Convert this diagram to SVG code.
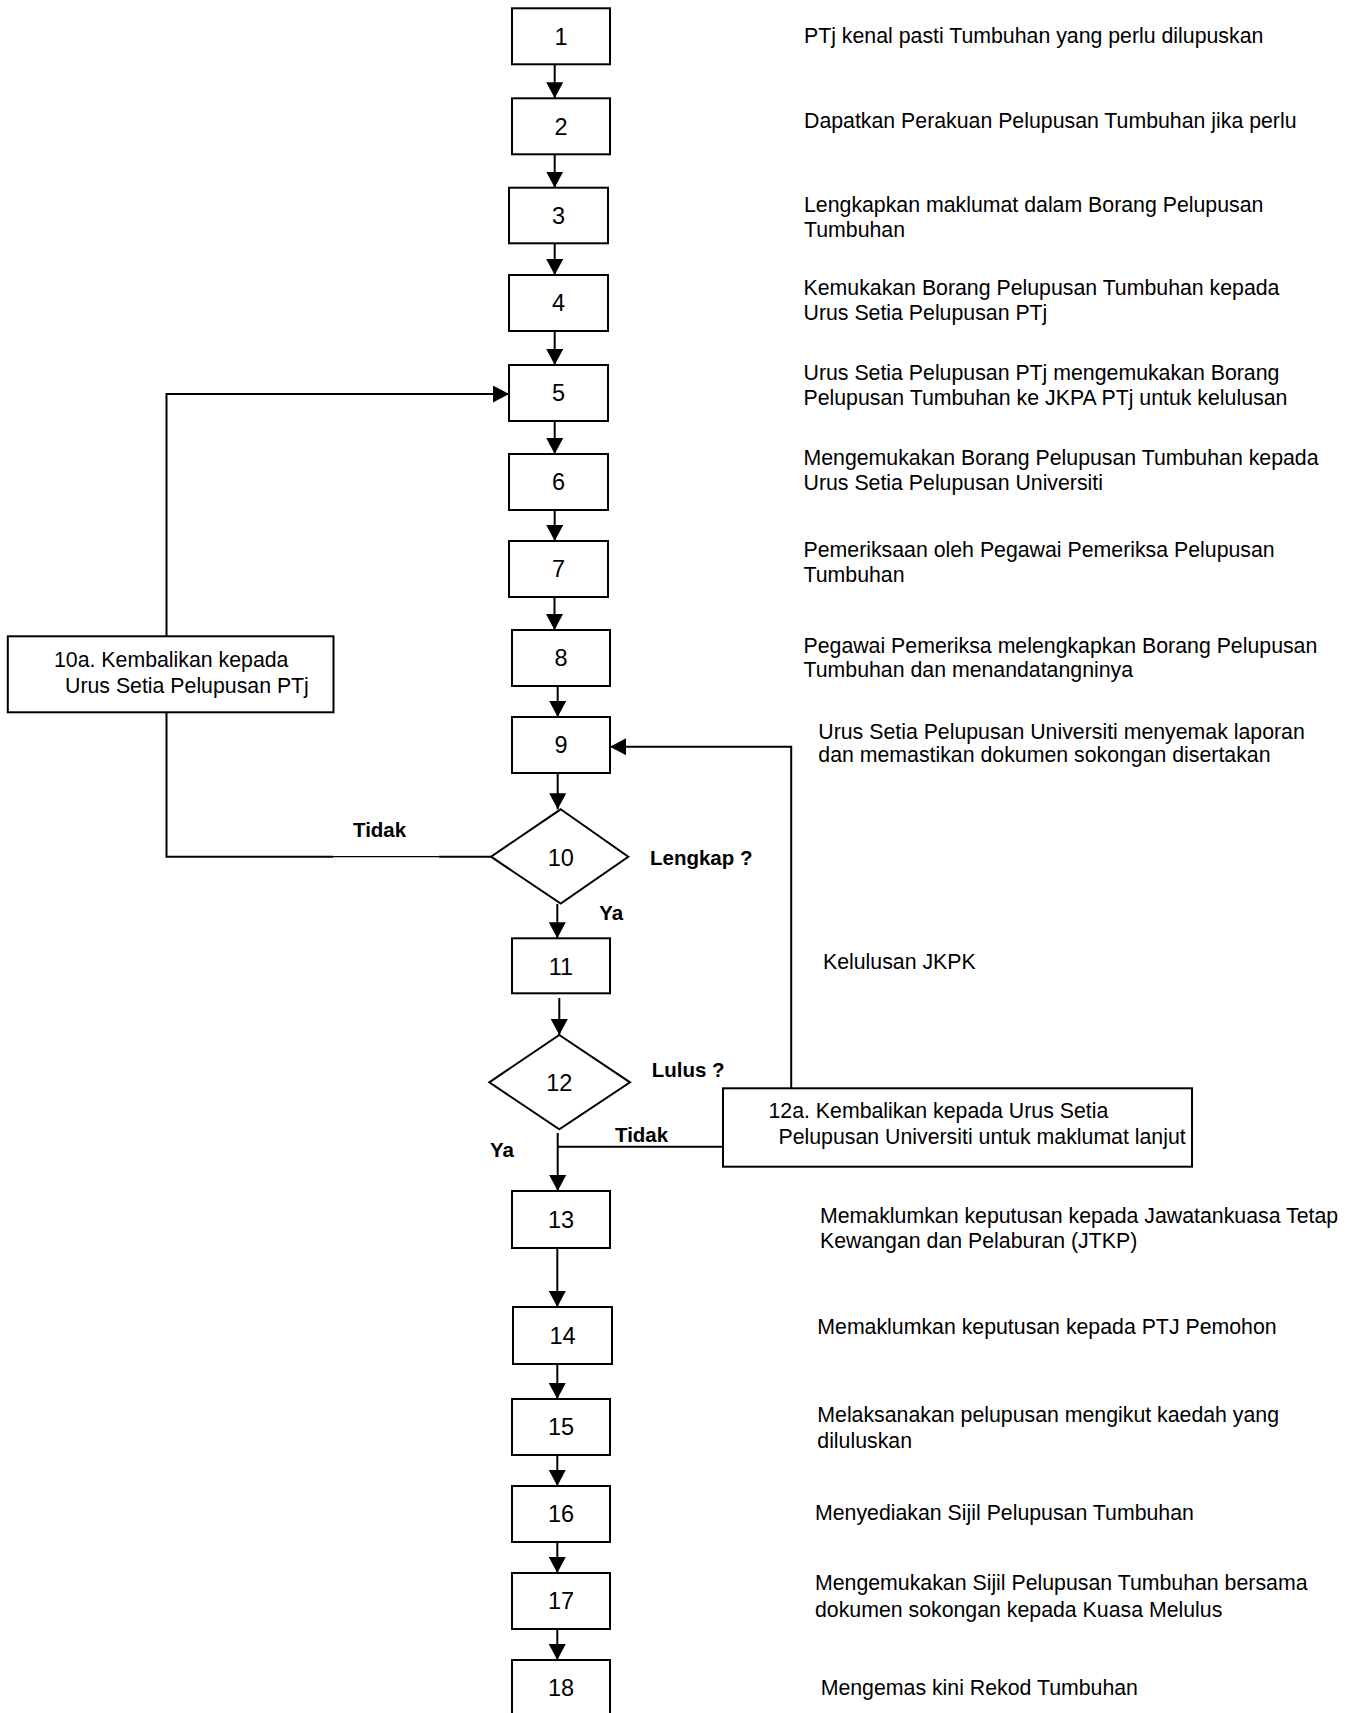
<svg xmlns="http://www.w3.org/2000/svg" width="1359" height="1713" viewBox="0 0 1359 1713">
<style>
  .box { fill: #ffffff; stroke: #000000; stroke-width: 2; }
  .num { font-family: "Liberation Sans", Arial, sans-serif; font-size: 23.5px; text-anchor: middle; fill: #000; }
  .desc { font-family: "Liberation Sans", Arial, sans-serif; font-size: 21.3px; fill: #000; }
  .lbl { font-family: "Liberation Sans", Arial, sans-serif; font-size: 20.5px; font-weight: bold; fill: #000; }
  .conn { fill: none; stroke: #000000; stroke-width: 2; }
  .arr { marker-end: url(#ah); }
</style>
<defs>
  <marker id="ah" markerUnits="userSpaceOnUse" markerWidth="17" markerHeight="17" refX="16" refY="8.5" orient="auto">
    <path d="M0,0 L16,8.5 L0,17 Z" fill="#000000"/>
  </marker>
</defs>
<rect x="0" y="0" width="1359" height="1713" fill="#ffffff"/>

<g id="connectors">
  <path class="conn arr" d="M554.7,64.3 V98.3"/>
  <path class="conn arr" d="M554.7,154.3 V187.7"/>
  <path class="conn arr" d="M554.7,243.3 V275"/>
  <path class="conn arr" d="M554.7,331 V365"/>
  <path class="conn arr" d="M554.7,421 V454"/>
  <path class="conn arr" d="M554.7,510 V541"/>
  <path class="conn arr" d="M554.5,597 V630"/>
  <path class="conn arr" d="M557.7,686 V717"/>
  <path class="conn arr" d="M557.7,773 V809.3"/>
  <path class="conn arr" d="M557.3,904 V938.3"/>
  <path class="conn arr" d="M559.3,998 V1035"/>
  <path class="conn arr" d="M557.7,1133 V1191"/>
  <path class="conn arr" d="M557.3,1248 V1307"/>
  <path class="conn arr" d="M557.3,1364 V1399"/>
  <path class="conn arr" d="M557.3,1455 V1486"/>
  <path class="conn arr" d="M557.3,1542 V1573"/>
  <path class="conn arr" d="M557.3,1629 V1660"/>
  <path class="conn" d="M491,856.7 H439"/>
  <path class="conn" d="M439,856.7 H333" style="stroke-width:1.2"/>
  <path class="conn" d="M333,856.7 H166.5 V712.3"/>
  <path class="conn arr" d="M166.5,636.3 V394 H509"/>
  <path class="conn" d="M723,1146.7 H557.7"/>
  <path class="conn arr" d="M791.2,1088.3 V746.7 H610"/>
</g>

<g id="n1"><rect class="box" x="512" y="8.3" width="98" height="56"/><text class="num" x="561" y="44.6">1</text></g>
<g id="n2"><rect class="box" x="512" y="98.3" width="98" height="56"/><text class="num" x="561" y="134.6">2</text></g>
<g id="n3"><rect class="box" x="509" y="187.7" width="99" height="55.6"/><text class="num" x="558.5" y="223.8">3</text></g>
<g id="n4"><rect class="box" x="509" y="275" width="99" height="56"/><text class="num" x="558.5" y="311.3">4</text></g>
<g id="n5"><rect class="box" x="509" y="365" width="99" height="56"/><text class="num" x="558.5" y="401.3">5</text></g>
<g id="n6"><rect class="box" x="509" y="454" width="99" height="56"/><text class="num" x="558.5" y="490.3">6</text></g>
<g id="n7"><rect class="box" x="509" y="541" width="99" height="56"/><text class="num" x="558.5" y="577.3">7</text></g>
<g id="n8"><rect class="box" x="512" y="630" width="98" height="56"/><text class="num" x="561" y="666.3">8</text></g>
<g id="n9"><rect class="box" x="512" y="717" width="98" height="56"/><text class="num" x="561" y="753.3">9</text></g>
<g id="n10"><polygon class="box" points="560.7,809.3 628.3,856.7 560.7,903.5 491,856.7"/><text class="num" x="560.7" y="865.5">10</text></g>
<g id="n11"><rect class="box" x="512" y="938.3" width="98" height="55"/><text class="num" x="561" y="974.5">11</text></g>
<g id="n12"><polygon class="box" points="559.3,1035 630,1082.3 559.3,1129.3 489.3,1082.3"/><text class="num" x="559.3" y="1091">12</text></g>
<g id="n13"><rect class="box" x="512" y="1191" width="98" height="57"/><text class="num" x="561" y="1227.8">13</text></g>
<g id="n14"><rect class="box" x="513" y="1307" width="99" height="57"/><text class="num" x="562.5" y="1343.8">14</text></g>
<g id="n15"><rect class="box" x="512" y="1399" width="98" height="56"/><text class="num" x="561" y="1435.3">15</text></g>
<g id="n16"><rect class="box" x="512" y="1486" width="98" height="56"/><text class="num" x="561" y="1522.3">16</text></g>
<g id="n17"><rect class="box" x="512" y="1573" width="98" height="56"/><text class="num" x="561" y="1609.3">17</text></g>
<g id="n18"><rect class="box" x="512" y="1660" width="98" height="58"/><text class="num" x="561" y="1696.3">18</text></g>

<g id="n10a">
  <rect class="box" x="7.8" y="636.3" width="325.7" height="76"/>
  <text class="desc" x="54" y="666.7">10a. Kembalikan kepada</text>
  <text class="desc" x="65" y="693">Urus Setia Pelupusan PTj</text>
</g>
<g id="n12a">
  <rect class="box" x="723" y="1088.3" width="469" height="78.4"/>
  <text class="desc" x="768.5" y="1118.3">12a. Kembalikan kepada Urus Setia</text>
  <text class="desc" x="778.5" y="1144">Pelupusan Universiti untuk maklumat lanjut</text>
</g>

<g id="labels">
  <text class="lbl" x="353" y="837.3">Tidak</text>
  <text class="lbl" x="650" y="865">Lengkap ?</text>
  <text class="lbl" x="599.3" y="920">Ya</text>
  <text class="lbl" x="651.7" y="1076.7">Lulus ?</text>
  <text class="lbl" x="615" y="1141.7">Tidak</text>
  <text class="lbl" x="490" y="1156.7">Ya</text>
</g>

<g id="descriptions">
  <text class="desc" x="804" y="42.7">PTj kenal pasti Tumbuhan yang perlu dilupuskan</text>
  <text class="desc" x="804" y="128.3">Dapatkan Perakuan Pelupusan Tumbuhan jika perlu</text>
  <text class="desc" x="804" y="212.3">Lengkapkan maklumat dalam Borang Pelupusan</text>
  <text class="desc" x="804" y="236.7">Tumbuhan</text>
  <text class="desc" x="803.5" y="295">Kemukakan Borang Pelupusan Tumbuhan kepada</text>
  <text class="desc" x="803.5" y="320">Urus Setia Pelupusan PTj</text>
  <text class="desc" x="803.5" y="380">Urus Setia Pelupusan PTj mengemukakan Borang</text>
  <text class="desc" x="803.5" y="405">Pelupusan Tumbuhan ke JKPA PTj untuk kelulusan</text>
  <text class="desc" x="803.5" y="465">Mengemukakan Borang Pelupusan Tumbuhan kepada</text>
  <text class="desc" x="803.5" y="490">Urus Setia Pelupusan Universiti</text>
  <text class="desc" x="803.5" y="557">Pemeriksaan oleh Pegawai Pemeriksa Pelupusan</text>
  <text class="desc" x="803.5" y="582">Tumbuhan</text>
  <text class="desc" x="803.5" y="653">Pegawai Pemeriksa melengkapkan Borang Pelupusan</text>
  <text class="desc" x="803.5" y="677">Tumbuhan dan menandatangninya</text>
  <text class="desc" x="818.3" y="738.5">Urus Setia Pelupusan Universiti menyemak laporan</text>
  <text class="desc" x="818.3" y="762">dan memastikan dokumen sokongan disertakan</text>
  <text class="desc" x="823" y="969">Kelulusan JKPK</text>
  <text class="desc" x="820" y="1223.3">Memaklumkan keputusan kepada Jawatankuasa Tetap</text>
  <text class="desc" x="820" y="1248.3">Kewangan dan Pelaburan (JTKP)</text>
  <text class="desc" x="817.3" y="1334">Memaklumkan keputusan kepada PTJ Pemohon</text>
  <text class="desc" x="817.3" y="1422.3">Melaksanakan pelupusan mengikut kaedah yang</text>
  <text class="desc" x="817.3" y="1448.3">diluluskan</text>
  <text class="desc" x="815" y="1520">Menyediakan Sijil Pelupusan Tumbuhan</text>
  <text class="desc" x="815" y="1590">Mengemukakan Sijil Pelupusan Tumbuhan bersama</text>
  <text class="desc" x="815" y="1616.7">dokumen sokongan kepada Kuasa Melulus</text>
  <text class="desc" x="820.7" y="1695">Mengemas kini Rekod Tumbuhan</text>
</g>
</svg>
